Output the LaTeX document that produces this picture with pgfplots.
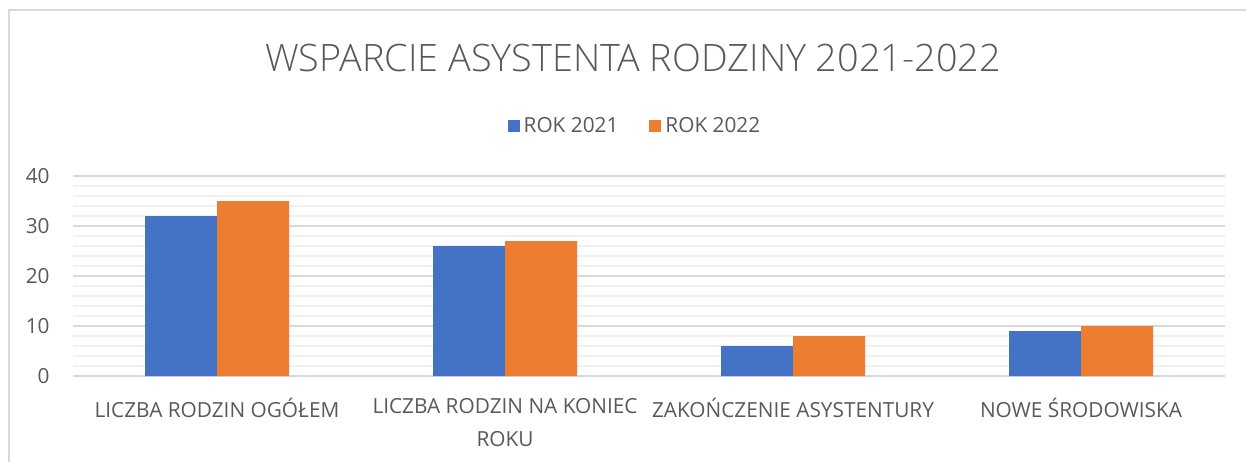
\documentclass[border=0pt]{standalone}
\usepackage{fontspec}
\setmainfont{Open Sans}
\newfontfamily\titlefont{Open Sans Light}
\usepackage{pgfplots}
\pgfplotsset{compat=1.18}
\definecolor{cblue}{HTML}{4472C4}
\definecolor{corange}{HTML}{ED7D31}
\definecolor{ctext}{HTML}{595959}
\definecolor{cgrid}{HTML}{D9D9D9}
\definecolor{cminor}{HTML}{F0F0F0}
\begin{document}
\begin{tikzpicture}
\useasboundingbox (0pt,0pt) rectangle (623pt,-230.5pt);
\draw[cgrid, line width=0.75pt] (4.5pt,-235pt) -- (4.5pt,-5pt) -- (630pt,-5pt);
\node[text=ctext, font=\titlefont\fontsize{18.9}{23}\selectfont, inner sep=0pt] at (316.5pt,-29pt) {WSPARCIE ASYSTENTA RODZINY 2021-2022};
\begin{axis}[
  at={(36.5pt,-188pt)}, anchor=south west,
  width=576pt, height=100pt, scale only axis,
  xmin=-0.5, xmax=3.5, ymin=0, ymax=40,
  ytick={0,10,20,30,40},
  minor ytick={2,4,6,8,12,14,16,18,22,24,26,28,32,34,36,38},
  ymajorgrids, yminorgrids,
  major grid style={cgrid, line width=0.6pt},
  minor grid style={cminor, line width=0.6pt},
  axis line style={draw=none},
  major tick length=0pt, minor tick length=0pt,
  xtick={0,1,2,3},
  xticklabels={LICZBA RODZIN OGÓŁEM, {LICZBA RODZIN NA KONIEC\\[2pt]ROKU}, ZAKOŃCZENIE ASYSTENTURY, NOWE ŚRODOWISKA},
  xticklabel style={align=center, inner sep=0pt, anchor=north, yshift=-11pt, text=ctext, font=\fontsize{10.4}{14.5}\selectfont},
  yticklabel style={inner sep=0pt, anchor=east, xshift=-11.5pt, text=ctext, font=\fontsize{10.4}{12}\selectfont},
  /pgf/number format/assume math mode=true,
  ybar=0pt, bar width=36pt,
  legend columns=2,
  legend style={at={(0.4887,1.25)}, anchor=center, draw=none, fill=none, font=\fontsize{10.4}{12}\selectfont, text=ctext, inner sep=0pt,
    /tikz/every even column/.append style={column sep=13.5pt}},
  legend image code/.code={\fill[#1] (0pt,-3pt) rectangle (6pt,3pt);},
  legend cell align=left,
]
\addplot[fill=cblue, draw=none, bar shift=-18pt] coordinates {(0,32) (1,26) (2,6) (3,9)};
\addlegendentry{ROK 2021}
\addplot[fill=corange, draw=none, bar shift=18pt] coordinates {(0,35) (1,27) (2,8) (3,10)};
\addlegendentry{ROK 2022}
\end{axis}
\end{tikzpicture}
\end{document}
